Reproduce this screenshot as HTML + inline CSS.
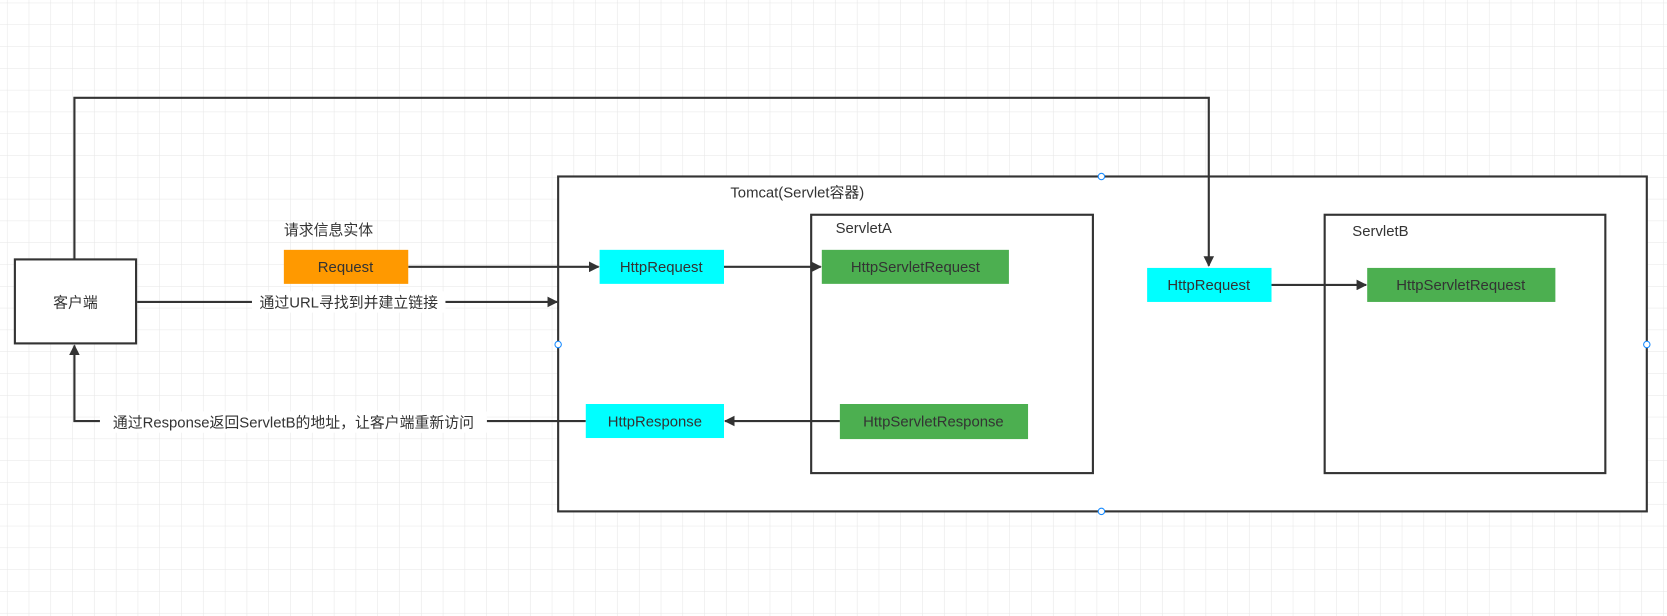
<!DOCTYPE html>
<html><head><meta charset="utf-8"><style>
html,body{margin:0;padding:0;background:#fff;}
svg{display:block;}
text{font-family:"Liberation Sans","Noto Sans CJK SC",sans-serif;font-size:14px;fill:#333;}
</style></head><body>
<svg width="1667" height="616" viewBox="0 0 1568 579.4" preserveAspectRatio="none" xmlns="http://www.w3.org/2000/svg">
<defs>
<pattern id="g" width="20.5" height="20.5" patternUnits="userSpaceOnUse" x="7" y="3">
<path d="M20.5 0V20.5H0" fill="none" stroke="#e6e6e6" stroke-width="1"/>
</pattern>
<marker id="a" markerWidth="10" markerHeight="10" refX="9" refY="5" orient="auto" markerUnits="userSpaceOnUse">
<path d="M0,0 L10,5 L0,10 Z" fill="#333"/>
</marker>
</defs>
<rect width="1568" height="580" fill="url(#g)"/>
<g fill="#fff" stroke="#333" stroke-width="2">
<rect x="525" y="166" width="1024" height="315"/>
<rect x="763" y="202" width="265" height="243"/>
<rect x="1246" y="202" width="264" height="243"/>
<rect x="14" y="244" width="114" height="79"/>
</g>
<g fill="none" stroke="#333" stroke-width="2">
<path d="M70 244V92H1137V250" marker-end="url(#a)"/>
<path d="M384 251H563" marker-end="url(#a)"/>
<path d="M681 251H772" marker-end="url(#a)"/>
<path d="M129 284H524" marker-end="url(#a)"/>
<path d="M1196 268H1285" marker-end="url(#a)"/>
<path d="M790 396H682" marker-end="url(#a)"/>
<path d="M551 396H70V325" marker-end="url(#a)"/>
</g>
<rect x="267" y="235" width="117" height="32" fill="#ff9900"/>
<rect x="564" y="235" width="117" height="32" fill="#00ffff"/>
<rect x="773" y="235" width="176" height="32" fill="#4caf50"/>
<rect x="1079" y="252" width="117" height="32" fill="#00ffff"/>
<rect x="1286" y="252" width="177" height="32" fill="#4caf50"/>
<rect x="790" y="380" width="177" height="33" fill="#4caf50"/>
<rect x="551" y="380" width="130" height="32" fill="#00ffff"/>
<rect x="237" y="274" width="182" height="20" fill="#fff"/>
<rect x="94" y="387" width="364" height="20" fill="#fff"/>
<g fill="#fff" stroke="#1a8cff" stroke-width="1">
<circle cx="1036" cy="166" r="3"/><circle cx="525" cy="324" r="3"/>
<circle cx="1549" cy="324" r="3"/><circle cx="1036" cy="481" r="3"/>
</g>
<text x="71" y="289" text-anchor="middle">客户端</text>
<text x="267" y="221">请求信息实体</text>
<text x="325" y="256" text-anchor="middle">Request</text>
<text x="622" y="256" text-anchor="middle">HttpRequest</text>
<text x="861" y="256" text-anchor="middle">HttpServletRequest</text>
<text x="1137" y="273" text-anchor="middle">HttpRequest</text>
<text x="1374" y="273" text-anchor="middle">HttpServletRequest</text>
<text x="878" y="401" text-anchor="middle">HttpServletResponse</text>
<text x="616" y="401" text-anchor="middle">HttpResponse</text>
<text x="328" y="289" text-anchor="middle">通过URL寻找到并建立链接</text>
<text x="276" y="402" text-anchor="middle">通过Response返回ServletB的地址，让客户端重新访问</text>
<text x="687" y="186">Tomcat(Servlet容器)</text>
<text x="786" y="219">ServletA</text>
<text x="1272" y="222">ServletB</text>
</svg>
</body></html>
